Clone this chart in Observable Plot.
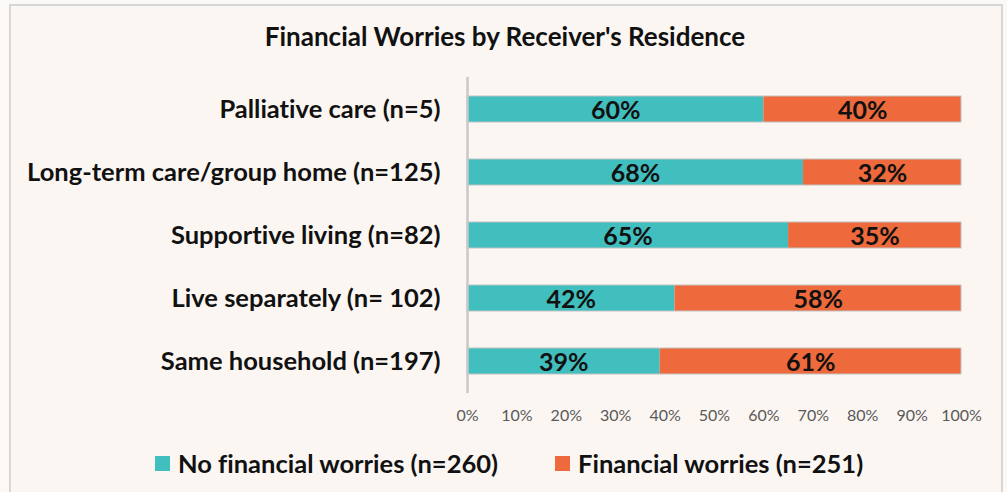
<!DOCTYPE html>
<html>
<head>
<meta charset="utf-8">
<script src="https://cdn.jsdelivr.net/npm/d3@7"></script>
<script src="https://cdn.jsdelivr.net/npm/@observablehq/plot@0.6"></script>
<style>
  html, body { margin: 0; padding: 0; background: #fcf8f5; width: 1007px; height: 492px; overflow: hidden; }
  * { font-variant-ligatures: none; font-feature-settings: "liga" 0; }
  svg text { font-variant-ligatures: none; font-feature-settings: "liga" 0; }
  #frame { position: absolute; left: 9px; top: 4px; width: 990px; height: 500px; border: 2px solid #d6d6d6; background: #fbf6f2; }
  #title { position: absolute; left: 0; top: 20px; width: 1010px; text-align: center; font-family: Lato, sans-serif; font-weight: bold; font-size: 26px; line-height: 32px; color: #111; }
  #chart { position: absolute; left: 0; top: 0; }
  #legend { position: absolute; left: 0; top: 447px; width: 1007px; font-family: Lato, sans-serif; font-weight: bold; font-size: 25.5px; color: #111; }
  .item { position: absolute; top: 0; display: flex; align-items: center; height: 32px; white-space: nowrap; }
  .sw { width: 15px; height: 15px; margin-right: 8px; }
</style>
</head>
<body>
<div id="frame"></div>
<div id="title"></div>
<div id="chart"></div>
<div id="legend"></div>
<script>
const titleText = "Financial Worries by Receiver's Residence";
const categories = [
  "Palliative care (n=5)",
  "Long-term care/group home (n=125)",
  "Supportive living (n=82)",
  "Live separately (n= 102)",
  "Same household (n=197)"
];
const seriesNames = ["No financial worries (n=260)", "Financial worries (n=251)"];
const noWorries = [60, 68, 65, 42, 39];
const worries = [40, 32, 35, 58, 61];
const seriesColors = ["#41bebe", "#ee693b"];
const xTicks = [0, 10, 20, 30, 40, 50, 60, 70, 80, 90, 100];

const data = [];
categories.forEach((c, i) => {
  data.push({category: c, series: seriesNames[0], value: noWorries[i]});
  data.push({category: c, series: seriesNames[1], value: worries[i]});
});
const totals = categories.map((c, i) => ({category: c, total: noWorries[i] + worries[i]}));

document.getElementById("title").textContent = titleText;

const plot = Plot.plot({
  width: 1007,
  height: 440,
  marginLeft: 467,
  marginRight: 46,
  marginTop: 77,
  marginBottom: 47,
  style: {background: "transparent", fontFamily: "Lato, sans-serif"},
  x: {domain: [0, 100], ticks: xTicks, tickFormat: d => d + "%", label: null},
  y: {domain: categories, paddingInner: 0.58, paddingOuter: 0.293, label: null},
  color: {domain: seriesNames, range: seriesColors},
  marks: [
    Plot.barX(data, {x: "value", y: "category", fill: "series", z: "series"}),
    Plot.barX(totals, {x1: 0, x2: "total", y: "category", fill: "none", stroke: "#c4c4c4", strokeWidth: 1}),
    Plot.textX(data, Plot.stackX({x: "value", y: "category", z: "series", text: d => d.value + "%", fontSize: 25, fontWeight: "bold", fill: "#111", dy: 1})),
    Plot.axisX({ticks: xTicks, tickFormat: d => d + "%", tickSize: 0, tickPadding: 16, fontSize: 16, color: "#595959", label: null}),
    Plot.axisY({tickSize: 0, tickPadding: 27, fontSize: 25.5, fontWeight: "bold", color: "#111", label: null}),
    Plot.ruleX([0], {stroke: "#c8c8c8", strokeWidth: 2.5})
  ]
});
plot.querySelectorAll("[aria-label='y-axis tick label'] text").forEach(t => t.setAttribute("font-weight", "bold"));
document.getElementById("chart").appendChild(plot);

const legend = document.getElementById("legend");
const lefts = [155, 555];
seriesNames.forEach((s, i) => {
  const it = document.createElement("div");
  it.className = "item";
  it.style.left = lefts[i] + "px";
  const sw = document.createElement("div");
  sw.className = "sw";
  sw.style.background = seriesColors[i];
  const tx = document.createElement("span");
  tx.textContent = s;
  it.appendChild(sw); it.appendChild(tx);
  legend.appendChild(it);
});
</script>
</body>
</html>
